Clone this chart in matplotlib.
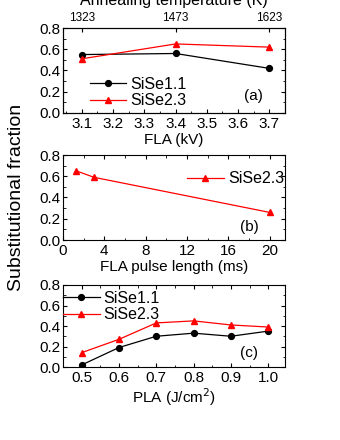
import matplotlib.pyplot as plt
from matplotlib.ticker import AutoMinorLocator

plt.rcParams['font.family'] = ['Liberation Sans', 'DejaVu Sans']

# panel (a): FLA voltage
fla_kv = [3.1, 3.4, 3.7]
temp_k = ['1323', '1473', '1623']
a_sise11 = [0.55, 0.56, 0.42]
a_sise23 = [0.51, 0.65, 0.62]

# panel (b): FLA pulse length
pulse_ms = [1.3, 3.0, 20.0]
b_sise23 = [0.65, 0.59, 0.26]

# panel (c): PLA fluence
pla = [0.5, 0.6, 0.7, 0.8, 0.9, 1.0]
c_sise11 = [0.02, 0.19, 0.30, 0.33, 0.30, 0.35]
c_sise23 = [0.14, 0.27, 0.43, 0.45, 0.41, 0.39]

fig = plt.figure(figsize=(3.4, 4.4), dpi=100)
W, H = 340, 440


def box(x0, y0, x1, y1):
    return [x0 / W, 1 - y1 / H, (x1 - x0) / W, (y1 - y0) / H]


def style(ax):
    ax.set_ylim(0, 0.8)
    ax.set_yticks([0, 0.2, 0.4, 0.6, 0.8])
    ax.yaxis.set_minor_locator(AutoMinorLocator(2))
    ax.xaxis.set_minor_locator(AutoMinorLocator(2))
    ax.tick_params(which='both', direction='in', top=True, right=True, labelsize=11)
    ax.tick_params(axis='x', pad=3)
    ax.tick_params(axis='y', pad=2)
    ax.tick_params(which='major', length=3)
    ax.tick_params(which='minor', length=1.8)


def legend(ax, x, y):
    ax.legend(loc='center left', bbox_to_anchor=(x, y), frameon=False, fontsize=11.5,
              handlelength=2.3, handletextpad=0.25, labelspacing=0.1,
              borderaxespad=0, borderpad=0)


blk = dict(color='black', marker='o', ms=4.2, lw=0.9)
red = dict(color='red', marker='^', ms=4.8, lw=0.9)

ax1 = fig.add_axes(box(63, 28, 285, 113))
ax1.plot(fla_kv, a_sise11, label='SiSe1.1', **blk)
ax1.plot(fla_kv, a_sise23, label='SiSe2.3', **red)
ax1.set_xlim(3.04, 3.75)
ax1.set_xticks([3.1, 3.2, 3.3, 3.4, 3.5, 3.6, 3.7])
style(ax1)
ax1.set_xlabel('FLA (kV)', fontsize=11, labelpad=1)
legend(ax1, 0.12, 0.241)
ax1.text(0.9, 0.15, '(a)', transform=ax1.transAxes, ha='right', va='baseline', fontsize=11)
top = ax1.twiny()
top.set_xlim(ax1.get_xlim())
top.set_xticks(fla_kv)
top.set_xticklabels(temp_k)
top.tick_params(direction='in', length=3, labelsize=8.5, pad=3)
fig.text(174 / W, 1 - 5 / H, 'Annealing temperature (K)', ha='center', va='baseline',
         fontsize=11.5)

ax2 = fig.add_axes(box(63, 155, 285, 240))
ax2.plot(pulse_ms, b_sise23, label='SiSe2.3', **red)
ax2.set_xlim(0, 21.5)
ax2.set_xticks([0, 4, 8, 12, 16, 20])
style(ax2)
ax2.set_xlabel('FLA pulse length (ms)', fontsize=11, labelpad=1)
legend(ax2, 0.559, 0.718)
ax2.text(0.88, 0.1, '(b)', transform=ax2.transAxes, ha='right', va='baseline', fontsize=11)

ax3 = fig.add_axes(box(63, 285, 285, 367))
ax3.plot(pla, c_sise11, label='SiSe1.1', **blk)
ax3.plot(pla, c_sise23, label='SiSe2.3', **red)
ax3.set_xlim(0.45, 1.045)
ax3.set_xticks(pla)
style(ax3)
ax3.set_xlabel('PLA (J/cm$^2$)', fontsize=11, labelpad=1)
legend(ax3, 0.0, 0.738)
ax3.text(0.88, 0.12, '(c)', transform=ax3.transAxes, ha='right', va='baseline', fontsize=11)

fig.text(17 / W, 1 - 197 / H, 'Substitutional fraction', rotation=90, ha='center',
         va='center', fontsize=14)

fig.savefig('out.png', dpi=100)
